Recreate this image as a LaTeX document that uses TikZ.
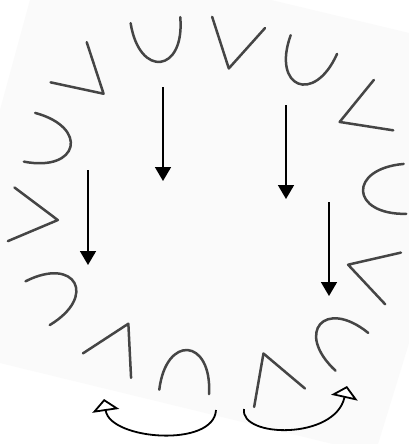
\documentclass[tikz,border=0pt]{standalone}
\usetikzlibrary{arrows.meta}
\definecolor{inkGray}{HTML}{454545}
\definecolor{pageGray}{HTML}{FAFAFA}

\tikzset{
  ucup/.pic={\draw[glyph] (-25,-21) .. controls (-23,35) and (23,35) .. (25,-21);},
  vang/.pic={\draw[glyph] (-27,-22) -- (0,25) -- (27,-22);}
}

\begin{document}
\begin{tikzpicture}[x=1pt, y=-1pt,
    glyph/.style={draw=inkGray, line width=2.5pt, line cap=round, line join=round},
    arr/.style={-{Triangle[length=14pt, width=16pt]}, line width=1.7pt},
    turnarr/.style={-{Triangle[open, fill=white, length=12pt, width=27pt]}, line width=1.8pt}]
  \useasboundingbox (0,0) rectangle (409,444);
  \fill[white] (0,0) rectangle (409,444);
  % tilted sheet of the scan
  \fill[pageGray] (30,0) -- (271,0) -- (409,33) -- (409,343) -- (378,444)
    -- (333,444) -- (0,363) -- (0,110) -- cycle;

  % ring of letters, bottoms turned to the middle
  \foreach \x/\y/\r in {158/41/7, 306/64/-22, 384/190/-87, 336/338/-131,
                        186/371/175, 56/293/119, 50/142/77}
    \pic[rotate=\r] at (\x,\y) {ucup};
  \foreach \x/\y/\r in {234/44/-12, 363/113/-69, 372/272/-107, 272/377/-160,
                        117/346/153, 33/217/83, 85/77/48}
    \pic[rotate=\r] at (\x,\y) {vang};

  % straight arrows
  \coordinate (a1) at (163,87);  \coordinate (b1) at (163,181);
  \coordinate (a2) at (286,105); \coordinate (b2) at (286,199);
  \coordinate (a3) at (88,170);  \coordinate (b3) at (88,265);
  \coordinate (a4) at (329,202); \coordinate (b4) at (329,296);
  \draw[arr] (a1) -- (b1);
  \draw[arr] (a2) -- (b2);
  \draw[arr] (a3) -- (b3);
  \draw[arr] (a4) -- (b4);

  % turning arrows under the ring
  \coordinate (ls) at (216,410); \coordinate (le) at (104,399);
  \coordinate (rs) at (244,409); \coordinate (re) at (347,386);
  \draw[turnarr] (ls) .. controls (214,448) and (110,440) .. (le);
  \draw[turnarr] (rs) .. controls (240,438) and (335,440) .. (re);
\end{tikzpicture}
\end{document}
